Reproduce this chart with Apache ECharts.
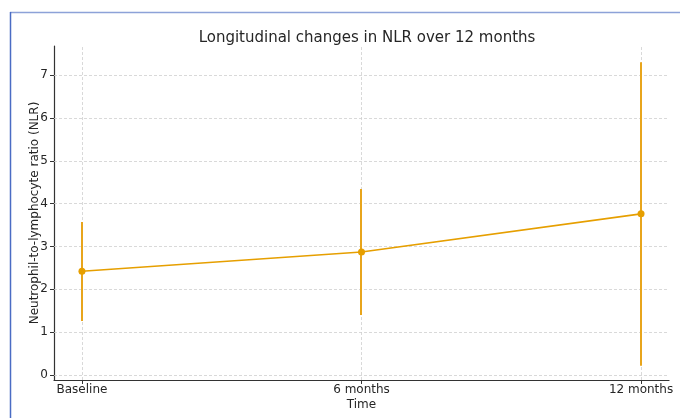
<!DOCTYPE html>
<html><head><meta charset="utf-8">
<script src="https://cdn.jsdelivr.net/npm/echarts@6/dist/echarts.min.js"></script>
<style>html,body{margin:0;padding:0;background:#fff}#c{width:680px;height:418px}</style>
</head><body><div id="c"></div>
<script>
const categories = ['Baseline', '6 months', '12 months'];
const meanNLR = [2.42, 2.87, 3.76];
const lowerNLR = [1.26, 1.40, 0.21];
const upperNLR = [3.57, 4.34, 7.30];
const yTicks = [0, 1, 2, 3, 4, 5, 6, 7];

const color = '#E69F00';
const chart = echarts.init(document.getElementById('c'));
const xIdx = categories.map((c, i) => i);
const gridLine = {color: '#cfcfcf', width: 0.8, type: [3, 2]};

chart.setOption({
  animation: false,
  title: {text: 'Longitudinal changes in NLR over 12 months', left: 362, top: 26, textAlign: 'center',
    textStyle: {fontFamily: 'DejaVu Sans', fontSize: 15, fontWeight: 'normal', color: '#262626'}},
  grid: {left: 54, right: 11, top: 46, bottom: 38, outerBoundsMode: 'none', containLabel: false},
  graphic: [
    {type: 'line', shape: {x1: 10, y1: 12.5, x2: 680, y2: 12.5}, style: {stroke: '#8da2d8', lineWidth: 1.5}},
    {type: 'line', shape: {x1: 10.5, y1: 12, x2: 10.5, y2: 418}, style: {stroke: '#4a6cc4', lineWidth: 1.5}}
  ],
  xAxis: {type: 'value', min: -0.1, max: 2.1,
    name: 'Time', nameLocation: 'middle', nameGap: 19, nameMoveOverlap: false,
    nameTextStyle: {fontFamily: 'DejaVu Sans', fontSize: 12, color: '#262626'},
    axisLine: {show: true, onZero: false, lineStyle: {color: '#333', width: 1.2}},
    axisTick: {show: true, customValues: xIdx, length: 4, lineStyle: {color: '#333'}},
    axisLabel: {customValues: xIdx, formatter: v => categories[Math.round(v)] || '',
      fontFamily: 'DejaVu Sans', fontSize: 12, color: '#262626', margin: 4},
    splitLine: {show: false}},
  yAxis: {type: 'value', min: -0.12, max: 7.68,
    name: 'Neutrophil-to-lymphocyte ratio (NLR)', nameLocation: 'middle', nameGap: 13, nameMoveOverlap: false,
    nameTextStyle: {fontFamily: 'DejaVu Sans', fontSize: 12, color: '#262626'},
    axisLine: {show: true, onZero: false, lineStyle: {color: '#333', width: 1.2}},
    axisTick: {show: true, customValues: yTicks, length: 4, lineStyle: {color: '#333'}},
    axisLabel: {customValues: yTicks, fontFamily: 'DejaVu Sans', fontSize: 12, color: '#262626', margin: 6},
    splitLine: {show: false}},
  series: [
    {type: 'line', data: [], silent: true, z: 1,
      markLine: {silent: true, symbol: 'none', label: {show: false}, lineStyle: gridLine, z: 1,
        data: yTicks.map(v => ({yAxis: v})).concat(xIdx.map(v => ({xAxis: v})))}},
    {type: 'custom', silent: true, z: 5,
      data: xIdx.map(i => [i, lowerNLR[i], upperNLR[i]]),
      renderItem: (params, api) => {
        const lo = api.coord([api.value(0), api.value(1)]);
        const hi = api.coord([api.value(0), api.value(2)]);
        const x = Math.round(lo[0]);
        return {type: 'rect', shape: {x: x - 1, y: hi[1], width: 2, height: lo[1] - hi[1]},
          style: {fill: '#E8A51C'}};
      }},
    {type: 'line', z: 6, data: xIdx.map(i => [i, meanNLR[i]]),
      symbol: 'circle', symbolSize: 7, showSymbol: true,
      lineStyle: {color: color, width: 1.6}, itemStyle: {color: color}}
  ]
});
</script></body></html>
